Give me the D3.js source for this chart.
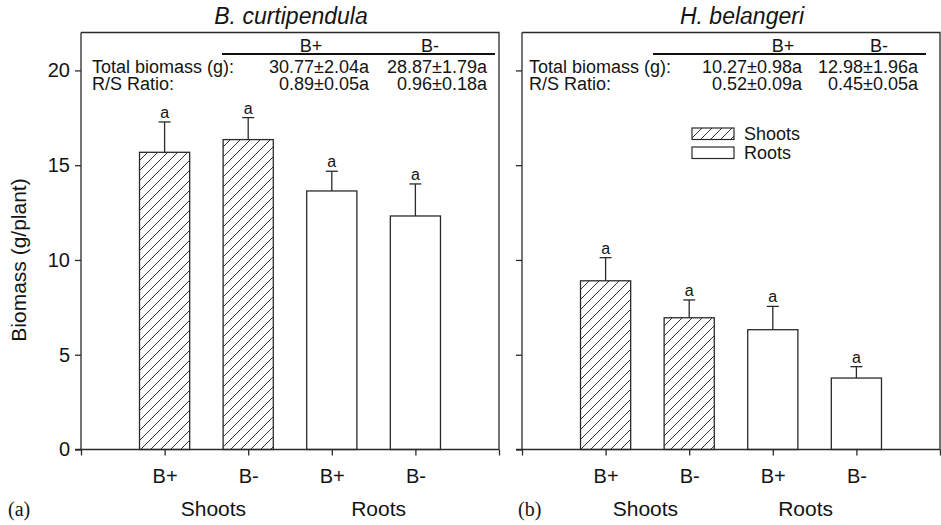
<!DOCTYPE html>
<html>
<head>
<meta charset="utf-8">
<script src="https://cdn.jsdelivr.net/npm/d3@7"></script>
<style>
  html, body { margin: 0; padding: 0; background: #fff; }
  svg { display: block; font-family: "Liberation Sans", Arial, Helvetica, sans-serif; }
</style>
</head>
<body>
<svg id="chart" width="941" height="525"></svg>
<script>
// ---------------- data ----------------
const categories = ["B+", "B-", "B+", "B-"];
const groups = ["Shoots", "Roots"];
const partOfBar = ["Shoots", "Shoots", "Roots", "Roots"];
const yTicks = [0, 5, 10, 15, 20];

const curtMeans = [15.68, 16.35, 13.64, 12.32];
const curtErr   = [1.60, 1.16, 1.04, 1.69];
const belMeans  = [8.90, 6.95, 6.32, 3.77];
const belErr    = [1.22, 0.94, 1.23, 0.60];
const sigLetters = ["a", "a", "a", "a"];

const tableHeaders = ["B+", "B-"];
const rowLabels = ["Total biomass (g):", "R/S Ratio:"];
const curtTable = [["30.77\u00b12.04a", "28.87\u00b11.79a"], ["0.89\u00b10.05a", "0.96\u00b10.18a"]];
const belTable  = [["10.27\u00b10.98a", "12.98\u00b11.96a"], ["0.52\u00b10.09a", "0.45\u00b10.05a"]];

const titles = ["B. curtipendula", "H. belangeri"];
const panelTags = ["(a)", "(b)"];
const yLabel = "Biomass (g/plant)";
const legendItems = ["Shoots", "Roots"];

// ---------------- layout ----------------
const svg = d3.select("#chart");
const ink = "#141414";
const lineCol = "#2a2a2a";
const yTop = 32.5, yBottom = 449.5;
const y = d3.scaleLinear().domain([0, 22]).range([yBottom, yTop]);

const defs = svg.append("defs");
const pat = defs.append("pattern")
  .attr("id", "hatch").attr("patternUnits", "userSpaceOnUse")
  .attr("width", 10).attr("height", 10);
pat.append("rect").attr("width", 10).attr("height", 10).attr("fill", "#fff");
pat.append("path").attr("d", "M-1,11 L11,-1 M-6,6 L6,-6 M4,16 L16,4")
  .attr("stroke", "#333").attr("stroke-width", 1);

const panels = [
  { x0: 81, x1: 499, means: curtMeans, errs: curtErr, table: curtTable, title: titles[0], tag: panelTags[0],
    showY: true, titleX: 291, tableLabelX: 92, valRight: [369, 487], headX: [311, 430], lineX: [222, 495],
    tagX: 8, groupOffset: [7, 5], legend: false },
  { x0: 522, x1: 940, means: belMeans, errs: belErr, table: belTable, title: titles[1], tag: panelTags[1],
    showY: false, titleX: 742, tableLabelX: 529, valRight: [802, 918], headX: [783, 879], lineX: [653, 926],
    tagX: 518, groupOffset: [-2, -9], legend: true }
];

panels.forEach((p) => {
  const x = d3.scaleLinear().domain([0, 5]).range([p.x0, p.x1]);
  const g = svg.append("g");
  const bw = x(0.6) - x(0);

  // bars
  g.selectAll("rect.bar").data(p.means).enter().append("rect")
    .attr("class", "bar")
    .attr("x", (d, i) => x(i + 1) - bw / 2)
    .attr("width", bw)
    .attr("y", d => y(d))
    .attr("height", d => y(0) - y(d))
    .attr("fill", (d, i) => partOfBar[i] === "Shoots" ? "url(#hatch)" : "#fff")
    .attr("stroke", lineCol).attr("stroke-width", 1.3);

  // error bars
  const capW = 12;
  p.means.forEach((m, i) => {
    const cx = x(i + 1);
    g.append("line").attr("x1", cx).attr("x2", cx)
      .attr("y1", y(m)).attr("y2", y(m + p.errs[i]))
      .attr("stroke", lineCol).attr("stroke-width", 1.3);
    g.append("line").attr("x1", cx - capW / 2).attr("x2", cx + capW / 2)
      .attr("y1", y(m + p.errs[i])).attr("y2", y(m + p.errs[i]))
      .attr("stroke", lineCol).attr("stroke-width", 1.3);
    g.append("text").attr("x", cx).attr("y", y(m + p.errs[i]) - 4)
      .attr("text-anchor", "middle").attr("font-size", 16).attr("fill", ink)
      .text(sigLetters[i]);
  });

  // frame top & right
  g.append("path")
    .attr("d", `M${p.x0},${yTop} L${p.x1},${yTop} L${p.x1},${yBottom}`)
    .attr("fill", "none").attr("stroke", lineCol).attr("stroke-width", 1.3);

  // y axis
  const yAxis = d3.axisLeft(y).tickValues(yTicks).tickSize(6).tickPadding(5)
    .tickFormat(p.showY ? d3.format("d") : () => "");
  const ya = g.append("g").attr("transform", `translate(${p.x0},0)`).call(yAxis);
  ya.select(".domain").attr("d", `M0,${yTop}V${yBottom}`);
  ya.selectAll("path,line").attr("stroke", lineCol).attr("stroke-width", 1.3);
  ya.selectAll("text").attr("font-size", 20).attr("fill", ink).attr("font-family", "Liberation Sans, Arial, sans-serif");

  // x axis
  const xAxis = d3.axisBottom(x).tickValues([0, 1, 2, 3, 4, 5]).tickSize(6).tickPadding(13)
    .tickFormat((d) => (d >= 1 && d <= 4) ? categories[d - 1] : "");
  const xa = g.append("g").attr("transform", `translate(0,${yBottom})`).call(xAxis);
  xa.select(".domain").attr("d", `M${p.x0 - 6},0H${p.x1}`);
  xa.selectAll("path,line").attr("stroke", lineCol).attr("stroke-width", 1.3);
  xa.selectAll("text").attr("font-size", 20).attr("fill", ink).attr("font-family", "Liberation Sans, Arial, sans-serif");

  // group labels
  groups.forEach((gr, k) => {
    g.append("text").attr("x", x(1.5 + 2 * k) + p.groupOffset[k]).attr("y", 516)
      .attr("text-anchor", "middle").attr("font-size", 21).attr("fill", ink).text(gr);
  });

  // panel tag
  g.append("text").attr("x", p.tagX).attr("y", 516)
    .attr("font-family", "Liberation Serif, Times New Roman, serif")
    .attr("font-size", 20).attr("fill", ink).text(p.tag);

  // title
  g.append("text").attr("x", p.titleX).attr("y", 23.5)
    .attr("text-anchor", "middle").attr("font-size", 23).attr("font-style", "italic")
    .attr("fill", ink).text(p.title);

  // stats table
  g.append("line").attr("x1", p.lineX[0]).attr("x2", p.lineX[1])
    .attr("y1", 54).attr("y2", 54).attr("stroke", "#111").attr("stroke-width", 1.8);
  tableHeaders.forEach((h, j) => {
    g.append("text").attr("x", p.headX[j]).attr("y", 51.5).attr("text-anchor", "middle")
      .attr("font-size", 18).attr("fill", ink).text(h);
  });
  rowLabels.forEach((rl, r) => {
    const by = 72.5 + r * 17;
    g.append("text").attr("x", p.tableLabelX).attr("y", by)
      .attr("font-size", 18).attr("fill", ink).text(rl);
    p.table[r].forEach((v, j) => {
      g.append("text").attr("x", p.valRight[j]).attr("y", by).attr("text-anchor", "end")
        .attr("font-size", 18).attr("fill", ink).text(v);
    });
  });

  // legend
  if (p.legend) {
    legendItems.forEach((li, k) => {
      const ly = 128 + k * 19;
      g.append("rect").attr("x", 692).attr("y", ly).attr("width", 42).attr("height", 11.5)
        .attr("fill", li === "Shoots" ? "url(#hatch)" : "#fff")
        .attr("stroke", lineCol).attr("stroke-width", 1.2);
      g.append("text").attr("x", 744).attr("y", ly + 11.5).attr("font-size", 18)
        .attr("fill", ink).text(li);
    });
  }
});

// y axis label
svg.append("text")
  .attr("transform", `translate(25.5,${260}) rotate(-90)`)
  .attr("text-anchor", "middle").attr("font-size", 21).attr("fill", ink)
  .text(yLabel);
</script>
</body>
</html>
